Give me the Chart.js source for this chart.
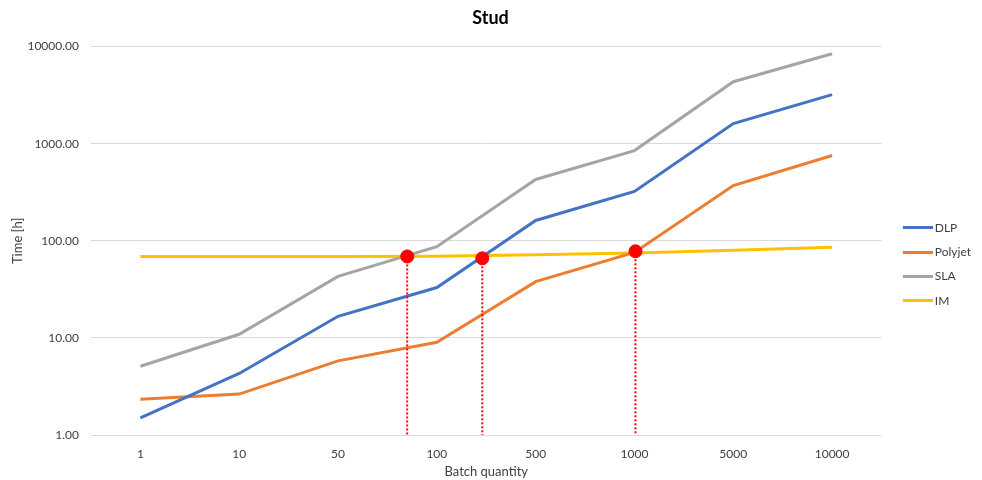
<!DOCTYPE html>
<html>
<head>
<meta charset="utf-8">
<script src="https://cdn.jsdelivr.net/npm/chart.js@4/dist/chart.umd.min.js"></script>
<style>
html,body{margin:0;padding:0;background:#fff;}
#wrap{width:982px;height:480px;position:relative;}
</style>
</head>
<body>
<div id="wrap"><canvas id="c"></canvas></div>
<script>
const categories = ['1', '10', '50', '100', '500', '1000', '5000', '10000'];
const dlp     = [1.5, 4.3, 16.7, 33, 162, 322, 1610, 3200];
const polyjet = [2.34, 2.64, 5.8, 9.0, 38, 76, 371, 755];
const sla     = [5.1, 10.9, 43, 87, 428, 849, 4350, 8430];
const im      = [69, 69, 69, 69.5, 72, 75, 80, 86];
const yTicks  = [1, 10, 100, 1000, 10000];
// intersection markers: position along the category axis (fractional index) and time
const crossX  = [2.70, 3.46, 5.01];
const crossY  = [69, 66, 78];

const pts = arr => arr.map((v, i) => ({x: i, y: v}));
const font = "Lato, 'Open Sans', sans-serif";

// legend swatch: a short thick line, offset inside a transparent canvas
function swatch(color) {
  const c = document.createElement('canvas');
  c.width = 43; c.height = 3;
  const g = c.getContext('2d');
  g.fillStyle = color;
  g.fillRect(13, 0, 30, 3);
  return c;
}

const series = [
  {label: 'DLP', data: pts(dlp), color: '#4472C4'},
  {label: 'Polyjet', data: pts(polyjet), color: '#ED7D31'},
  {label: 'SLA', data: pts(sla), color: '#A5A5A5'},
  {label: 'IM', data: pts(im), color: '#FFC000'}
];

const datasets = series.map(s => ({
  label: s.label, data: s.data, borderColor: s.color, backgroundColor: s.color,
  borderWidth: 3, pointRadius: 0, pointHoverRadius: 0, tension: 0, order: 2,
  pointStyle: swatch(s.color)
}));

crossX.forEach((x, i) => {
  datasets.push({
    label: '_drop' + i, data: [{x: x, y: crossY[i]}, {x: x, y: yTicks[0]}],
    borderColor: '#FF0000', borderWidth: 2, borderDash: [2, 2], pointRadius: 0, order: 1
  });
});
datasets.push({
  label: '_cross', data: crossX.map((x, i) => ({x: x, y: crossY[i]})),
  showLine: false, pointRadius: 6.5, pointBackgroundColor: '#FF0000', pointBorderColor: '#FF0000',
  borderColor: '#FF0000', order: 0
});

new Chart(document.getElementById('c'), {
  type: 'line',
  data: {datasets},
  options: {
    responsive: true, maintainAspectRatio: false, animation: false,
    layout: {padding: {left: 0, right: 1, top: 4, bottom: 0}},
    plugins: {
      title: {display: true, text: 'Stud', color: '#000', font: {family: font, size: 18, weight: 'bold'}, padding: {top: 3, bottom: 18}},
      legend: {
        position: 'right', align: 'center',
        title: {display: true, text: ' ', padding: {top: 0, bottom: 30}, font: {size: 12}},
        labels: {
          filter: item => !item.text.startsWith('_'),
          usePointStyle: true, pointStyleWidth: 35, boxHeight: 12,
          color: '#404040', font: {family: font, size: 12}, padding: 12.3
        }
      },
      tooltip: {enabled: false}
    },
    scales: {
      x: {
        type: 'linear', min: -0.5, max: 7.5,
        afterBuildTicks: axis => { axis.ticks = categories.map((c, i) => ({value: i})); },
        afterFit: axis => { axis.height = 45; },
        ticks: {callback: v => categories[v], color: '#404040', font: {family: font, size: 12}, padding: 12, maxRotation: 0, autoSkip: false},
        grid: {display: false, drawTicks: false},
        border: {display: false},
        title: {display: true, text: 'Batch quantity', color: '#404040', font: {family: font, size: 13}, padding: {top: 0, bottom: 0}}
      },
      y: {
        type: 'logarithmic', min: 1, max: 10000,
        afterBuildTicks: axis => { axis.ticks = yTicks.map(v => ({value: v})); },
        afterFit: axis => { axis.width = 91; },
        ticks: {callback: v => Number(v).toFixed(2), color: '#404040', font: {family: font, size: 12}, padding: 12},
        grid: {color: '#D9D9D9', lineWidth: 1, drawTicks: false},
        border: {display: false},
        title: {display: true, text: 'Time [h]', color: '#404040', font: {family: font, size: 13}, padding: {top: 10, bottom: 0}}
      }
    }
  }
});
</script>
</body>
</html>
